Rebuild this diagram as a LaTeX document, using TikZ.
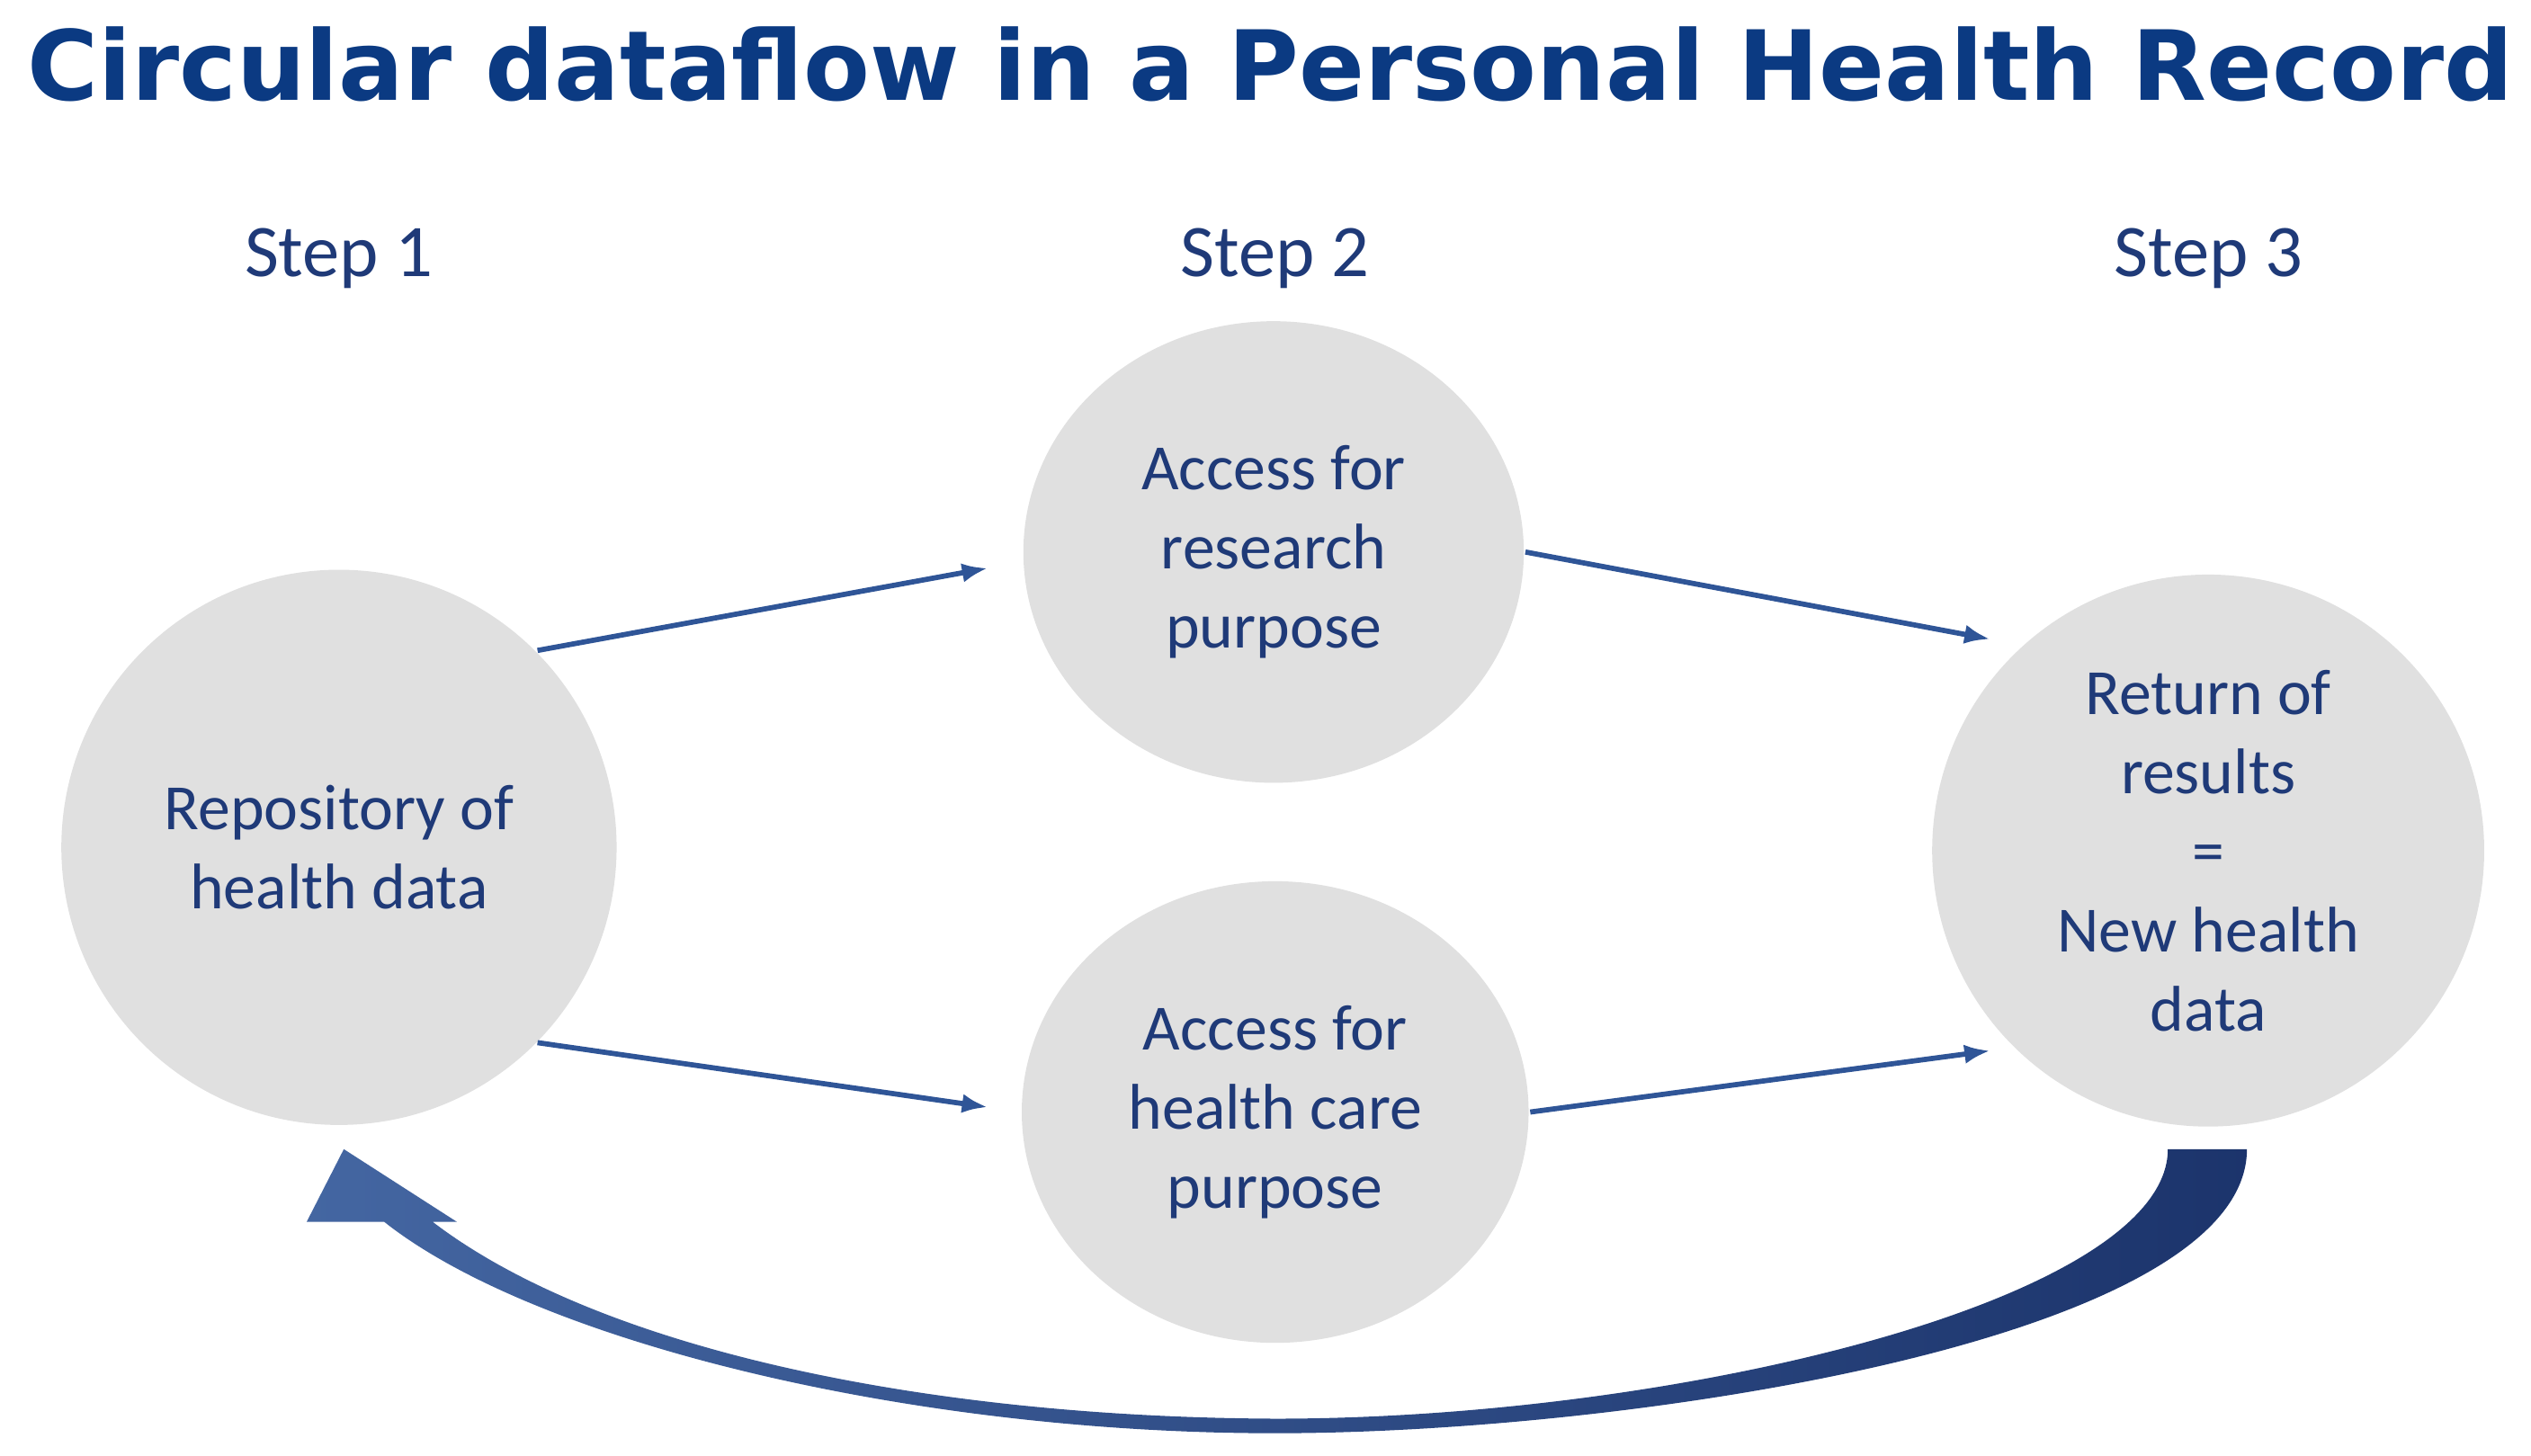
\documentclass[tikz,border=0pt]{standalone}
\usepackage{fontspec}
\usepackage{graphicx}
\setmainfont{Carlito}
\newfontfamily\titlefont{DejaVu Sans}
\definecolor{navy}{HTML}{0B3A82}
\definecolor{txtblue}{HTML}{1F3A78}
\definecolor{arr}{HTML}{2F5597}
\definecolor{circ}{HTML}{E0E0E0}
\begin{document}
\begin{tikzpicture}[x=0.5pt,y=-0.5pt,
  bub/.style={ellipse,fill=circ,inner sep=0pt,align=center,font=\fontsize{20}{24.5}\selectfont,text=txtblue},
  steplbl/.style={font=\fontsize{23}{28}\selectfont,text=txtblue},
  flow/.style={draw=arr,line width=1.6pt,-{Latex[length=8pt,width=6pt]}}]
\usetikzlibrary{shapes.geometric,arrows.meta}
\useasboundingbox (0,0) rectangle (1568,902);
\node (title) at (787,40) {\resizebox{770pt}{!}{\titlefont\bfseries\color{navy}Circular dataflow in a Personal Health Record}};
\node[steplbl] (s1) at (210,160) {Step 1};
\node[steplbl] (s2) at (790,160) {Step 2};
\node[steplbl] (s3) at (1368,160) {Step 3};
\node[bub,minimum width=172pt,minimum height=172pt] (rep) at (210,525) {Repository of\\health data};
\node[bub,minimum width=155pt,minimum height=143pt] (res) at (789,342) {Access for\\research\\purpose};
\node[bub,minimum width=157pt,minimum height=143pt] (care) at (790,689) {Access for\\health care\\purpose};
\node[bub,minimum width=171pt,minimum height=171pt] (ret) at (1368,527) {Return of\\results\\=\\New health\\data};
\coordinate (a1) at (333,403); \coordinate (a2) at (612,352);
\coordinate (b1) at (945,342); \coordinate (b2) at (1233,396);
\coordinate (c1) at (333,646); \coordinate (c2) at (612,686);
\coordinate (d1) at (948,689); \coordinate (d2) at (1233,651);
\draw[flow] (a1) -- (a2);
\draw[flow] (b1) -- (b2);
\draw[flow] (c1) -- (c2);
\draw[flow] (d1) -- (d2);
\shade[left color=arr!90!white,right color=txtblue!90!black]
  (1392,712) .. controls (1392,830) and (1010,888) .. (790,888)
  .. controls (560,888) and (330,830) .. (238,757)
  -- (190,757) -- (213,712) -- (283,757) -- (268,757)
  .. controls (370,835) and (570,878) .. (790,879)
  .. controls (1040,879) and (1343,805) .. (1343,712) -- cycle;
\end{tikzpicture}
\end{document}
